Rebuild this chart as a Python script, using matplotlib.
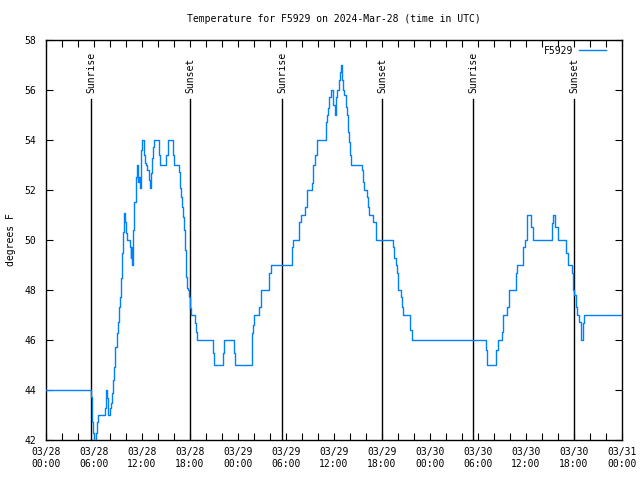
import matplotlib
matplotlib.use("Agg")
import matplotlib.pyplot as plt
from matplotlib.ticker import MultipleLocator

# ---- data (hours since 03/28 00:00 UTC, temperature degF) ----
hours = [
    0, 5.58, 5.71, 5.79, 5.92, 6.04, 6.25, 6.375, 6.54, 7.375, 7.46, 7.54, 7.625, 7.71, 7.79,
    8.0, 8.08, 8.21, 8.33, 8.46, 8.58, 8.67, 8.83, 8.96, 9.125, 9.25, 9.375, 9.46, 9.58, 9.75,
    9.875, 10.0, 10.08, 10.5, 10.58, 10.67, 10.79, 10.92, 11.04, 11.21, 11.33, 11.54, 11.625,
    11.75, 11.83, 11.92, 12.04, 12.29, 12.375, 12.5, 12.67, 12.83, 13.0, 13.125, 13.25, 13.42,
    13.54, 14.125, 14.25, 15.04, 15.21, 15.29, 15.875, 16.0, 16.67, 16.79, 16.92, 17.04, 17.17,
    17.29, 17.38, 17.5, 17.62, 17.71, 17.875, 18.0, 18.08, 18.625, 18.75, 18.83,
    20.92, 21.04, 22.17, 22.25, 23.54, 23.67, 25.71, 25.83, 26.0, 26.67, 26.875, 27.92, 28.08,
    30.71, 30.83, 31.67, 31.83, 32.42, 32.58, 33.21, 33.33, 33.625, 33.83, 34.96, 35.08, 35.21,
    35.42, 35.58, 35.92, 36.125, 36.21, 36.33, 36.625, 36.79, 36.875, 36.96, 37.125, 37.29,
    37.46, 37.58, 37.71, 37.875, 38.0, 38.125, 39.46, 39.58, 39.75, 40.17, 40.29, 40.42, 40.92,
    41.21, 43.42, 43.54, 43.75, 43.92, 44.04, 44.33, 44.5, 44.67, 45.5, 45.71,
    54.96, 55.17, 56.25, 56.54, 56.96, 57.08, 57.67, 57.92, 58.71, 58.92, 59.67, 59.92, 60.08,
    60.17, 60.625, 60.92, 63.21, 63.42, 63.67, 63.96, 64.96, 65.21, 65.71, 65.92, 66.04, 66.25,
    66.42, 66.625, 66.83, 67.08, 67.25, 72.0,
]
temps = [
    44, 43.73, 43.2, 42.73, 42.27, 41.6, 42.27, 42.73, 43, 43.27, 43.67, 44, 43.67, 43.27, 43,
    43.27, 43.47, 43.87, 44.4, 44.93, 45.5, 45.73, 46.27, 46.73, 47.33, 47.73, 48.47, 49.47, 50.33, 51.07,
    50.73, 50.27, 50, 49.73, 49.3, 49.73, 49, 50.4, 51.53, 52.53, 53, 52.33, 52.53,
    52.07, 52.6, 53.6, 54, 53.4, 53.07, 53, 52.8, 52.4, 52.07, 52.67, 53.27, 53.73,
    54, 53.4, 53, 53.4, 53.73, 54, 53.4, 53, 52.73, 52.07, 51.73, 51.33, 50.93,
    50.4, 49.6, 48.53, 48.07, 48, 47.73, 47.27, 47, 46.67, 46.33, 46,
    45.5, 45, 45.5, 46, 45.5, 45, 46.27, 46.6, 47, 47.33, 48, 48.67, 49,
    49.73, 50, 50.73, 51, 51.33, 52, 52.27, 53, 53.4, 54, 54.73, 55, 55.27,
    55.73, 56, 55.4, 55, 55.73, 56, 56.4, 56.73, 57, 56.4, 56, 55.8,
    55.33, 55, 54.33, 53.93, 53.4, 53, 52.8, 52.33, 52, 51.73, 51.33, 51, 50.73,
    50, 49.73, 49.27, 49, 48.67, 48, 47.73, 47.33, 47, 46.4, 46,
    45.6, 45, 45.6, 46, 46.33, 47, 47.33, 48, 48.67, 49, 49.73, 50, 50.67,
    51, 50.53, 50, 50.67, 51, 50.53, 50, 49.47, 49, 48.67, 48, 47.8, 47.33,
    47, 46.73, 46, 46.67, 47, 47,
]

sun_hours = [5.625, 18.0, 29.5, 42.0, 53.375, 66.0]
sun_labels = ["Sunrise", "Sunset", "Sunrise", "Sunset", "Sunrise", "Sunset"]

xtick_hours = [0, 6, 12, 18, 24, 30, 36, 42, 48, 54, 60, 66, 72]
xtick_labels = ["03/28\n00:00", "03/28\n06:00", "03/28\n12:00", "03/28\n18:00",
                "03/29\n00:00", "03/29\n06:00", "03/29\n12:00", "03/29\n18:00",
                "03/30\n00:00", "03/30\n06:00", "03/30\n12:00", "03/30\n18:00",
                "03/31\n00:00"]
ytick_values = [42, 44, 46, 48, 50, 52, 54, 56, 58]

series_name = "F5929"
title = "Temperature for F5929 on 2024-Mar-28 (time in UTC)"

# ---- drawing ----
plt.rcParams['font.family'] = ['DejaVu Sans Mono']
FS = 7

fig = plt.figure(figsize=(6.4, 4.8), dpi=100)
ax = fig.add_axes([46/640, 40/480, 576/640, 400/480])

ax.plot(hours, temps, drawstyle='steps-post', color='#0080ff', lw=1.0,
        label=series_name, zorder=3)

for h, lab in zip(sun_hours, sun_labels):
    ax.axvline(h, ymin=0, ymax=(440-99)/400, color='black', lw=1.0, zorder=2)
    ax.text(h, 42 + (440-93)/25, lab, rotation=90, ha='center', va='bottom',
            fontsize=FS, color='black')

ax.set_xlim(0, 72)
ax.set_ylim(42, 58)
ax.set_xticks(xtick_hours)
ax.set_xticklabels(xtick_labels)
ax.xaxis.set_minor_locator(MultipleLocator(2))
ax.set_yticks(ytick_values)
ax.set_yticklabels([str(v) for v in ytick_values])

ax.tick_params(axis='both', which='both', direction='in', top=True, right=True,
               labelsize=FS, width=0.8)
ax.tick_params(axis='both', which='major', length=5)
ax.tick_params(axis='both', which='minor', length=5)
ax.tick_params(axis='x', which='major', pad=5)
ax.tick_params(axis='y', which='major', pad=7)
for s in ax.spines.values():
    s.set_linewidth(1.0)

ax.set_ylabel("degrees F", fontsize=FS, labelpad=6)
fig.text(334/640, 1 - 19/480, title, ha='center', va='center', fontsize=FS)

leg = ax.legend(loc='upper right', frameon=False, fontsize=FS, handlelength=2.8,
                handletextpad=0.6, markerfirst=False, borderaxespad=0.2,
                bbox_to_anchor=(1 - 10/576, 1.0))

fig.savefig("out.png", dpi=100)
